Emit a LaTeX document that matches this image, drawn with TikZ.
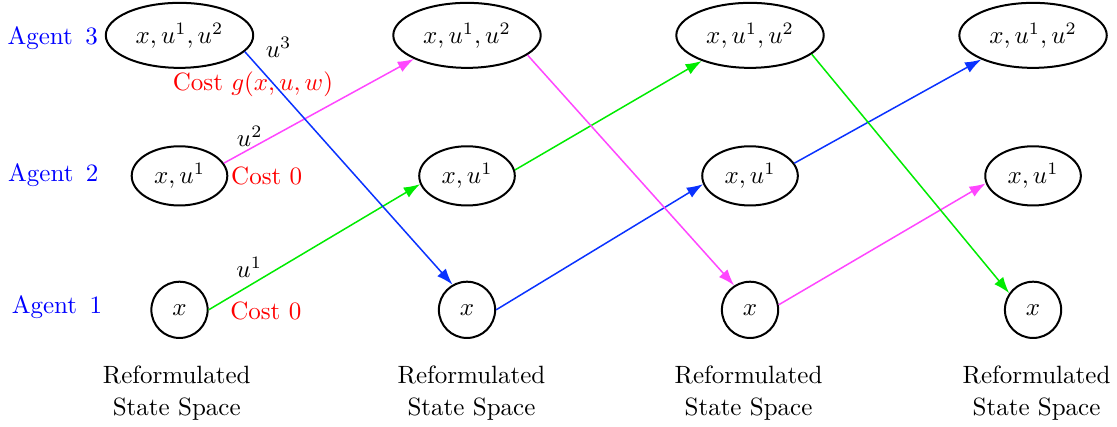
\documentclass[tikz,border=0pt]{standalone}
\usepackage{amsfonts, amssymb, amsmath}
\usepackage{tikz}
\usetikzlibrary{shapes.geometric, arrows.meta}

\definecolor{moveblue}{RGB}{10,50,255}
\definecolor{movegreen}{RGB}{0,235,0}
\definecolor{movemagenta}{RGB}{255,70,255}

\begin{document}
\begin{tikzpicture}[
    bigstate/.style={draw, thick, ellipse, minimum width=57pt, minimum height=26pt},
    midstate/.style={draw, thick, ellipse, minimum width=37pt, minimum height=22pt},
    basestate/.style={draw, thick, circle, minimum size=22.5pt, inner sep=0pt},
    move/.style={semithick, -{Latex[length=6.5pt, width=4.6pt]}}
]
    \useasboundingbox (0, 0) rectangle (15.70, 6.00);

    % agents
    \node[text=blue] (agent3) at (0.74, 5.47) {Agent~\,3};
    \node[text=blue] (agent2) at (0.75, 3.54) {Agent~\,2};
    \node[text=blue] (agent1) at (0.80, 1.69) {Agent~\,1};

    % states, one column per stage
    \node[bigstate] (top1) at (2.523, 5.503) {$x, u^1, u^2$};
    \node[midstate] (mid1) at (2.523, 3.528) {$x, u^1$};
    \node[basestate] (bot1) at (2.523, 1.645) {$x$};

    \node[bigstate] (top2) at (6.564, 5.503) {$x, u^1, u^2$};
    \node[midstate] (mid2) at (6.564, 3.528) {$x, u^1$};
    \node[basestate] (bot2) at (6.564, 1.645) {$x$};

    \node[bigstate] (top3) at (10.542, 5.503) {$x, u^1, u^2$};
    \node[midstate] (mid3) at (10.542, 3.528) {$x, u^1$};
    \node[basestate] (bot3) at (10.542, 1.645) {$x$};

    \node[bigstate] (top4) at (14.520, 5.503) {$x, u^1, u^2$};
    \node[midstate] (mid4) at (14.520, 3.528) {$x, u^1$};
    \node[basestate] (bot4) at (14.520, 1.645) {$x$};

    % controls and costs
    \node (ctrl3) at (3.915, 5.334) {$u^3$};
    \node[text=red] (cost3) at (3.556, 4.814) {Cost $g(x, u, w)$};
    \node (ctrl2) at (3.510, 4.081) {$u^2$};
    \node[text=red] (cost2) at (3.749, 3.525) {Cost $0$};
    \node (ctrl1) at (3.503, 2.242) {$u^1$};
    \node[text=red] (cost1) at (3.736, 1.633) {Cost $0$};

    % transitions
    \draw[move, movegreen] (bot1.east) -- (mid2.190);
    \draw[move, movemagenta] (mid1.16) -- (top2.204);
    \draw[move, moveblue] (top1.-14) -- (bot2.120);

    \draw[move, moveblue] (bot2.east) -- (mid3.190);
    \draw[move, movegreen] (mid2.7) -- (top3.208);
    \draw[move, movemagenta] (top2.-18) -- (bot3.123);

    \draw[move, movemagenta] (bot3.10) -- (mid4.189);
    \draw[move, moveblue] (mid3.16) -- (top4.205);
    \draw[move, movegreen] (top3.-17) -- (bot4.145);

    % captions
    \node[align=center] (space1) at (2.484, 0.475) {Reformulated\\[1pt]State Space};
    \node[align=center] (space2) at (6.627, 0.475) {Reformulated\\[1pt]State Space};
    \node[align=center] (space3) at (10.521, 0.475) {Reformulated\\[1pt]State Space};
    \node[align=center] (space4) at (14.569, 0.475) {Reformulated\\[1pt]State Space};
\end{tikzpicture}
\end{document}
